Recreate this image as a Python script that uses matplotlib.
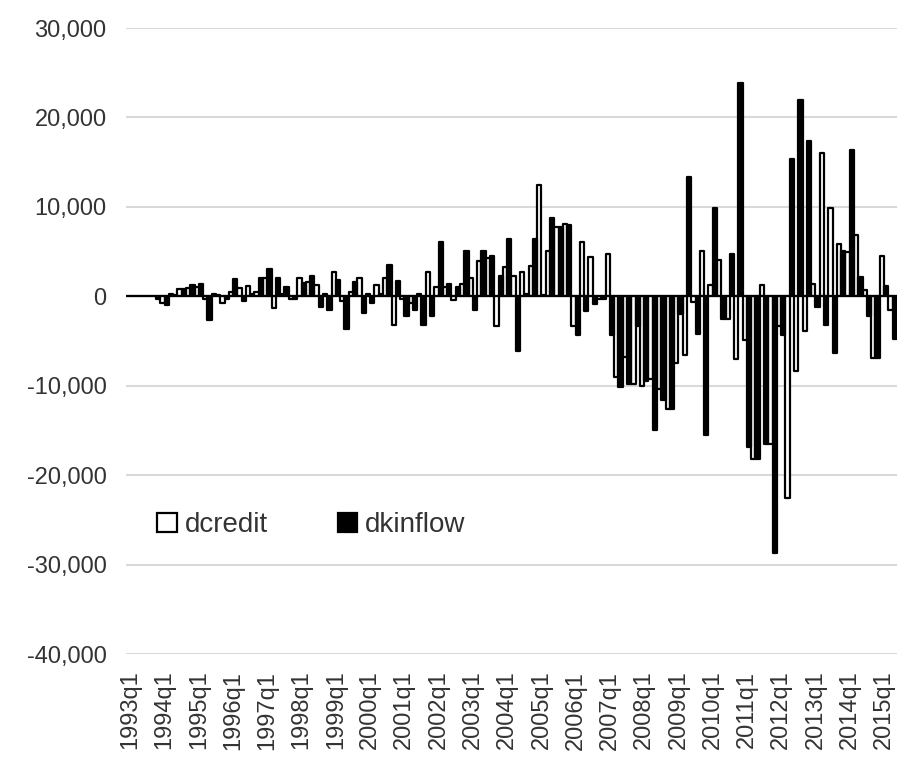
import numpy as np
import matplotlib

matplotlib.use("Agg")
import matplotlib.pyplot as plt

quarters = [f"{y}q{q}" for y in range(1993, 2016) for q in range(1, 5)][:90]

dcredit = [
    0, 0, 0, 0, -800, 300, 800, 900, 1000, -300,
    300, -700, 500, 900, 1100, 500, 2000, -1300, 300, -300,
    2000, 1600, 1300, 300, 2700, -500, 500, 2100, 300, 1300,
    2100, -3200, -300, -800, 300, 2700, 1000, 1000, -400, 1400,
    2000, 4000, 4300, -3300, 3300, 2300, 2700, 3400, 12500, 5100,
    7800, 8100, -3300, 6100, 4400, -300, 4700, -9000, -6800, -9800,
    -10000, -9200, -10400, -12600, -7500, -6600, -640, 5040, 1300, 4050,
    -2560, -7000, -4900, -18200, 1300, -16500, -3350, -22600, -8400, -3900,
    1400, 16000, 9860, 5900, 5000, 6900, 750, -6900, 4500, -1500,
]

dkinflow = [
    0, 0, 0, -300, -1000, 200, 800, 1300, 1400, -2700,
    200, -300, 1900, -500, 300, 2000, 3000, 2000, 1000, -300,
    1500, 2300, -1200, -1560, 1800, -3600, 1600, -1900, -800, 300,
    3500, 1700, -2200, -1500, -3200, -2200, 6100, 1400, 1000, 5100,
    -1500, 5100, 4500, 2300, 6400, -6100, 300, 6400, 200, 8800,
    7700, 8000, -4300, -1600, -850, -300, -4300, -10100, -9800, -3300,
    -9500, -15000, -11600, -12600, -2000, 13300, -4270, -15460, 9860, -2560,
    4740, 23800, -16900, -18200, -16500, -28700, -4300, 15300, 22000, 17400,
    -1200, -3200, -6300, 5100, 16400, 2150, -2150, -6900, 1100, -4800,
]

yticks = [30000, 20000, 10000, 0, -10000, -20000, -30000, -40000]

plt.rcParams["font.family"] = ["Liberation Sans", "DejaVu Sans"]

fig = plt.figure(figsize=(9.10, 7.57), dpi=100)
ax = fig.add_axes([0.1385, 0.136, 0.847, 0.827])

x = np.arange(len(quarters))
ax.bar(x - 0.25, dcredit, width=0.5, color="white", edgecolor="black",
       linewidth=1.6, joinstyle="round", label="dcredit", zorder=2)
ax.bar(x + 0.25, dkinflow, width=0.5, color="black", edgecolor="black",
       linewidth=1.6, joinstyle="round", label="dkinflow", zorder=3)
ax.axhline(0, color="black", linewidth=1.5, zorder=4)

ax.set_xlim(-0.5, len(quarters) - 0.5)
ax.set_ylim(-40000, 30000)
ax.set_yticks(yticks)
ax.set_yticklabels([f"{v:,}" for v in yticks])
ax.yaxis.grid(True, color="#d9d9d9", linewidth=1.5)
ax.set_axisbelow(True)

ax.set_xticks(x[::4])
ax.set_xticklabels(quarters[::4], rotation=90)
ax.tick_params(axis="both", length=0, labelsize=17, colors="#333333")
ax.tick_params(axis="x", pad=12)
ax.tick_params(axis="y", pad=14)
for side in ax.spines:
    ax.spines[side].set_visible(False)

ax.legend(loc="center left", bbox_to_anchor=(0.008, 0.206), ncol=2, frameon=False,
          fontsize=20, handlelength=0.7, handleheight=0.7, handletextpad=0.3,
          columnspacing=2.5, labelcolor="#333333")

fig.savefig("out.png", dpi=100)
